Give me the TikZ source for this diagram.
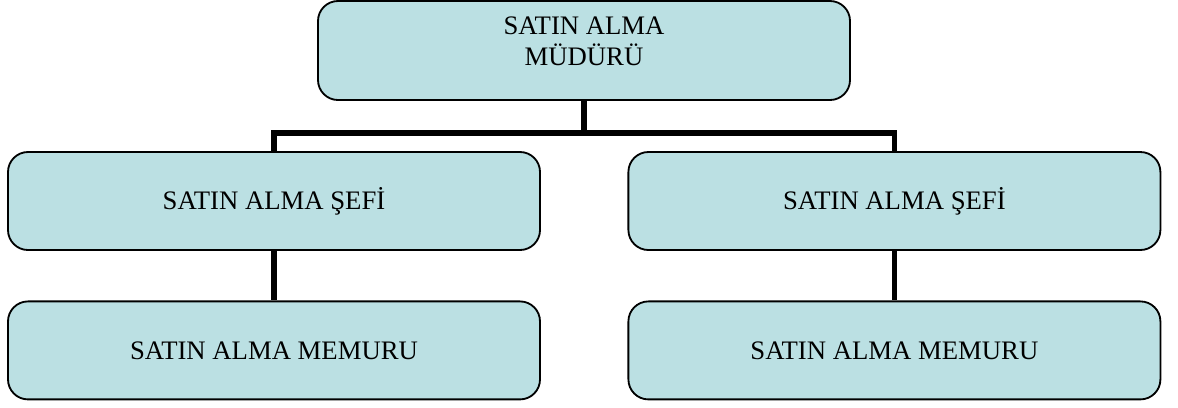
\documentclass[tikz,border=0pt]{standalone}
\usepackage{fontspec}
\setmainfont{Liberation Serif}
\definecolor{boxblue}{RGB}{187,224,227}

\begin{document}
\begin{tikzpicture}[
  unit/.style={draw, fill=boxblue, line width=1.3pt, rounded corners=0.5cm,
    minimum width=13.3cm, minimum height=2.45cm, inner sep=0pt,
    font=\fontsize{19}{22}\selectfont},
  link/.style={line width=4pt}]
\useasboundingbox (0,0) rectangle (29.45,-10.175);
% top
\node[unit, minimum height=2.475cm] (mudur) at (14.6,-1.2625) {};
\node[below=0.3cm, align=center, font=\fontsize{19}{22}\selectfont] (mudurtxt) at (mudur.north) {SATIN ALMA\\ MÜDÜRÜ};
% middle row
\node[unit] (sefL) at (6.85,-5.025) {SATIN ALMA ŞEFİ};
\node[unit] (sefR) at (22.36,-5.025) {SATIN ALMA ŞEFİ};
% bottom row
\node[unit] (memurL) at (6.85,-8.76) {SATIN ALMA MEMURU};
\node[unit] (memurR) at (22.36,-8.76) {SATIN ALMA MEMURU};
% links
\coordinate (bus) at (14.6,-3.325);
\draw[link] (mudur.south) -- (bus);
\draw[link] (sefL.north) |- (bus) -| (sefR.north);
\draw[link] (sefL.south) -- (memurL.north);
\draw[link] (sefR.south) -- (memurR.north);
\end{tikzpicture}
\end{document}
